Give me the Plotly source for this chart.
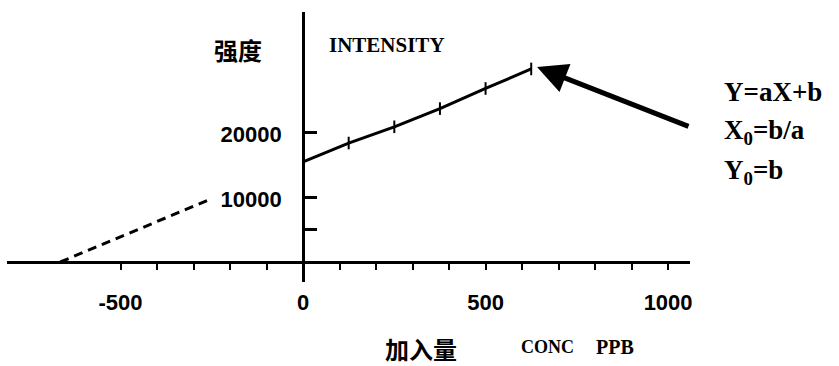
import plotly.graph_objects as go

# Data (standard-addition plot)
conc_added = [0, 125, 250, 375, 500, 625]            # CONC PPB
intensity = [15400, 18300, 20800, 23600, 26700, 29700]
extrap_x = [-665, -250]                               # dashed extrapolation
extrap_y = [0, 9750]
arrow_tip = (641, 30000)
arrow_tail = (1060, 20770)

x_ticks = [-500, 0, 500, 1000]
x_ticktext = ["-500", "0", "500", "1000"]
x_minor_ticks = [-400, -300, -200, -100, 100, 200, 300, 400, 600, 700, 800, 900]
y_ticks = [5000, 10000, 20000]
y_ticktext = ["", "10000", "20000"]

W, H = 839, 366
L, R, T, B = 7, 149, 12, 84
pw, ph = W - L - R, H - T - B
xr = [-811, 1060]
yr = [-3077, 38462]

def px(xpix):
    return (xpix - L) / pw

def py(ypix):
    return (H - B - ypix) / ph

fig = go.Figure()
fig.add_trace(go.Scatter(x=extrap_x, y=extrap_y, mode="lines",
                         line=dict(color="black", width=3, dash="9px,6px"),
                         hoverinfo="skip", showlegend=False))
fig.add_trace(go.Scatter(x=conc_added, y=intensity, mode="lines+markers",
                         line=dict(color="black", width=3),
                         marker=dict(symbol="line-ns", size=9,
                                     line=dict(color="black", width=2)),
                         hoverinfo="skip", showlegend=False))

fig.add_annotation(x=arrow_tip[0], y=arrow_tip[1], ax=arrow_tail[0], ay=arrow_tail[1],
                   xref="x", yref="y", axref="x", ayref="y", text="",
                   showarrow=True, arrowhead=2, arrowsize=1.2, arrowwidth=5,
                   arrowcolor="black", standoff=0)

cjk = "Noto Sans CJK SC"
serif = "Liberation Serif"
texts = [
    ("<b>强度</b>", 238, 50, "center", dict(family=cjk, size=24)),
    ("<b>INTENSITY</b>", 327, 45, "left", dict(family=serif, size=21)),
    ("<b>加入量</b>", 421, 348, "center", dict(family=cjk, size=24)),
    ("<b>CONC</b>", 519, 347, "left", dict(family=serif, size=18)),
    ("<b>PPB</b>", 594, 347, "left", dict(family=serif, size=20)),
    ("<b>Y=aX+b</b>", 722, 92, "left", dict(family=serif, size=27)),
    ("<b>X<sub>0</sub>=b/a</b>", 722, 132, "left", dict(family=serif, size=27)),
    ("<b>Y<sub>0</sub>=b</b>", 722, 172, "left", dict(family=serif, size=27)),
]
for t, xx, yy, anc, f in texts:
    fig.add_annotation(x=px(xx), y=py(yy), xref="paper", yref="paper", text=t,
                       showarrow=False, xanchor=anc, yanchor="middle",
                       font=dict(color="black", **f))

tickfont = dict(family="Liberation Sans", size=22, color="black", weight="bold")
fig.update_layout(
    width=W, height=H, margin=dict(l=L, r=R, t=T, b=B, autoexpand=False),
    paper_bgcolor="white", plot_bgcolor="white",
    xaxis=dict(range=xr, anchor="free", position=3077 / (38462 + 3077),
               automargin=False,
               showgrid=False, zeroline=False, showline=True, linewidth=3,
               linecolor="black", ticks="outside", ticklen=6, tickwidth=2,
               tickcolor="black", tickvals=x_ticks, ticktext=x_ticktext,
               tickfont=tickfont, ticklabelstandoff=14,
               minor=dict(tickvals=x_minor_ticks, ticks="outside", ticklen=6,
                          tickwidth=2, tickcolor="black", showgrid=False)),
    yaxis=dict(range=yr, anchor="free", position=811 / (811 + 1060),
               automargin=False,
               showgrid=False, zeroline=False, showline=True, linewidth=3,
               linecolor="black", ticks="inside", ticklen=12, tickwidth=3,
               tickcolor="black", tickvals=y_ticks, ticktext=y_ticktext,
               tickfont=tickfont, ticklabelstandoff=16, ticklabelshift=2),
)

fig.write_html("out.html", config={"displayModeBar": False},
               post_script="document.body.style.margin='0';document.body.style.overflow='hidden';")
